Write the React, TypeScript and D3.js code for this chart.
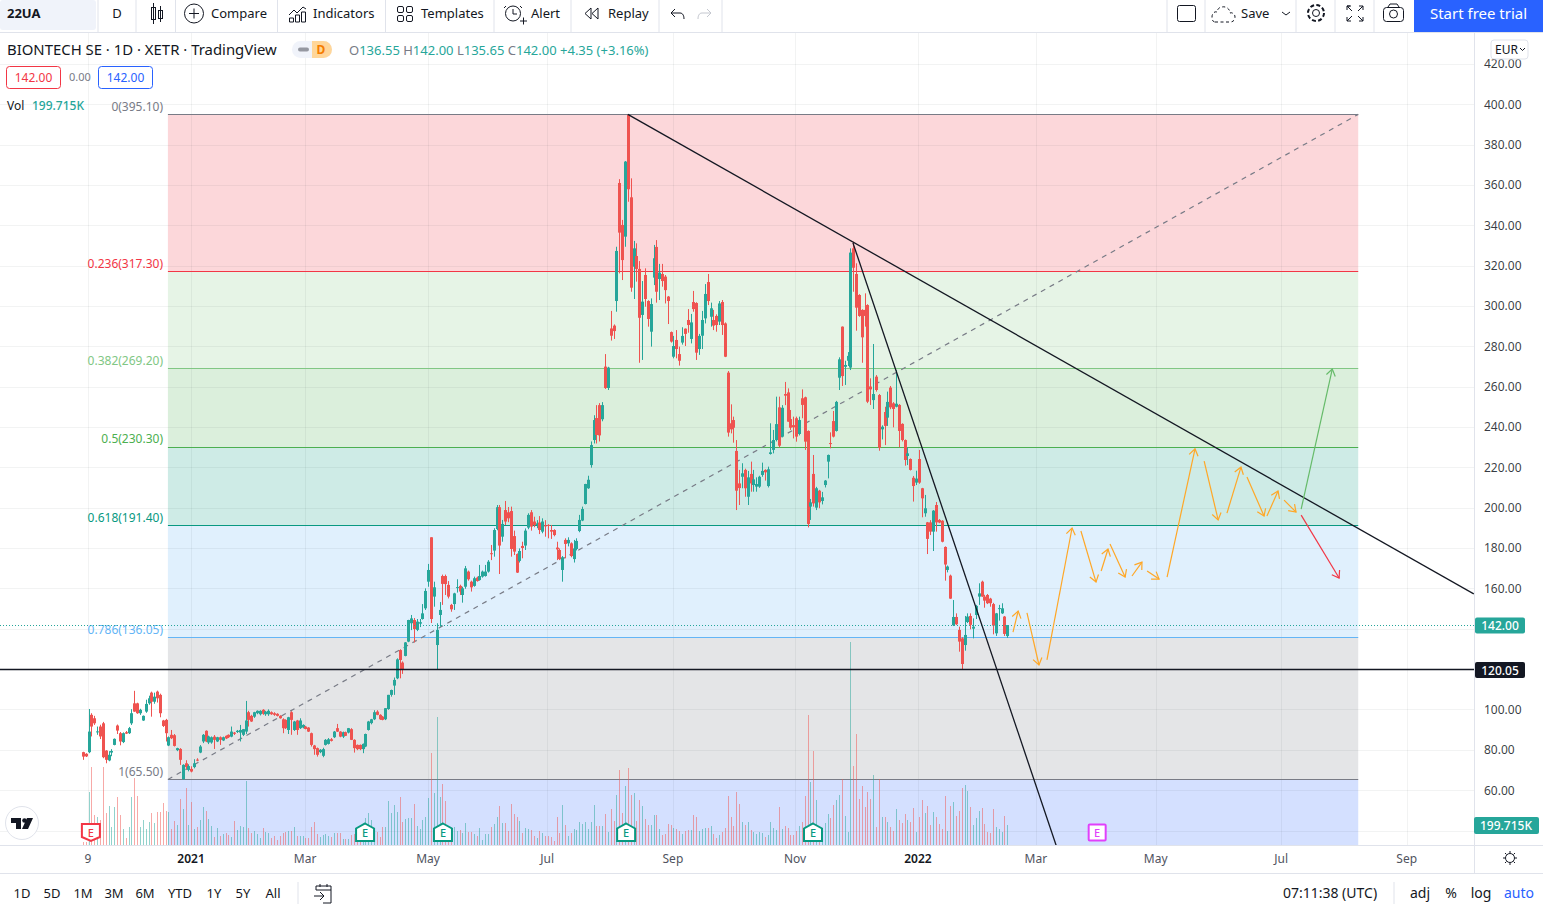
import * as d3 from 'd3'

const FONT = '"Noto Sans", "Open Sans", sans-serif'
const GREEN = '#26a69a'
const RED = '#ef5350'

// [open, high, low, close], daily bars
const candles2020 = [
  [79,79.2,75.2,76.8],[78.2,78.5,76.6,76.9],[79,100.4,78.5,89.2],[97.5,98.3,86.8,91.7],[95.8,97,92.5,93.3],
  [89,91.7,87.6,89.3],[91.7,92.6,85.5,86.8],[93.3,94,76,76.5],[79.8,80,73.5,75.2],[74.9,79.5,74.5,77.7],
  [78.8,80.5,77,79.6],[82.6,85.8,82.4,85.6],[92.2,92.7,88,89.7],[88.4,89,82.4,84.3],[84,88.8,83.5,88.4],
  [88.9,89.5,88,88.2],[88.4,91.5,88,90.9],[93.3,100.3,92.5,98.3],[103.2,109.4,99,99.1],[103.2,103.5,98,98.3],
  [98.3,100.5,97.5,100],[94.7,97.2,94.5,97],[99.1,105,98.5,102.9],[103.2,107,102.5,105.7],[108.5,109,96.6,104],
  [104,108.5,103,106.5],[109,109.5,103.6,105.7],[107.4,108,96.3,98.3],[94.7,95,91.5,92],[95,95.5,84.3,88.4],
]
const candlesQ1 = [
  [82.3,86.8,82,86.4],[87.6,90,85.5,85.9],[87.4,88,81.8,82.1],[80,81.2,79.5,81],[80.6,81,72.7,75.2],
  [65.6,73,65.5,72.7],[73.5,75,70.5,71.6],[70.2,73,69.5,72.1],[70.7,72,69,69.4],[71.6,75.5,71,73.5],
  [75.3,76,74.5,75],[78.8,82.5,78.5,81.8],[84.3,88,83.5,87.6],[89.6,89.8,84,84.3],[83.8,87.2,83,86.8],
  [83.8,86.8,83.2,86.4],[86.7,87.5,80.6,85.1],[84.3,86.6,84,86.4],[86.4,86.8,82.6,85.1],[84.8,86.7,84.5,86.4],
  [87.1,87.3,85.5,85.8],[87.6,87.8,86,86.4],[86.7,91.7,86.4,89.2],[88.7,89,87.5,88.1],[89,90,88.5,89.6],
  [88.7,92.5,84.3,90],[87.6,90.5,87,90.4],[89.2,104.4,88,94.7],[98.8,99.5,91.7,95],[97,97.5,94,94.2],
  [96.6,99,96,98.8],[98.3,99.7,97.8,99.5],[97.8,99.8,97.2,99.5],[100,100.3,97.5,98],[97.8,99.5,97,99.1],
  [97.8,100.2,97,99.5],[98.8,99.2,97.5,97.8],[98.3,98.8,97,97.5],[98,98.3,96.7,97],[97,97.3,95.6,95.8],
  [95.3,95.8,88.4,90.9],[95,95.3,90.5,90.9],[90,96.5,88,96.3],[98.8,99.3,87.6,95],[90,94.5,89.5,94.2],
  [94.7,95,87.6,90],[90.9,95.8,90.5,94.7],[91.2,92.8,90.8,92.5],[91.7,92,90.3,90.5],[91.2,91.4,89,89.2],
  [88.4,88.7,81.8,82.6],[82.3,82.6,77.7,80.5],[81,81.3,76.8,77.7],[79,80.5,78.5,80.2],[77.2,81.2,76.5,80.5],
  [82.6,85.5,82.3,85.1],[83.1,86,82.8,85.4],[85.4,86,84.3,84.6],[86.4,89.5,86,89.2],[90.9,93,89,89.2],
  [89.2,89.4,86.4,86.7],[86.7,89.2,86,88.9],[88.9,89.2,87,87.1],[88.7,91,88.3,90.9],[90.4,90.9,85,85.1],
  [85.1,85.4,78.8,81],[82.6,82.8,80,80.5],[82.6,82.8,80,80.5],[80.5,83.3,78.5,83.1],[81.8,88.2,81.5,88],
  [90,94.5,89.7,94.2],[93.4,95.5,92.8,95.3],[95.3,99.8,94.9,98.8],[99.1,99.8,97.3,97.5],[97.5,97.8,95,95.3],
  [96.6,96.9,94.8,95],[95.3,100.8,94.9,100.8],[100.4,107.4,100,107.4],[107.4,110,106.5,109.8],[112,116,107.4,114.8],
]
const candlesQ2 = [
  [115.6,125.5,115.2,125],[129.6,130,115.6,124.7],[123.4,124,117.8,120.1],[126.7,133.6,126.5,133.4],[133.8,144.6,133.5,144.5],
  [142.9,147,139.5,145.3],[144.5,145.5,133.4,140],[139.6,145,139,143.7],[142.7,145,141,143.4],[145,152.4,144.7,147.8],
  [150.3,160.2,149.5,158.9],[163.5,172.3,161,169.3],[185.5,185.5,143,145],[156.1,163.5,151.1,160.7],[132.1,142.9,120.2,139.6],
  [147,153.4,141.2,149.5],[166.3,167,152,162.4],[166.3,167,156.9,162.3],[161.9,163.8,155.2,156.1],[152,152.5,148.6,149.8],
  [152.4,158,149.5,157.7],[160.5,164.7,158.1,160.8],[161.4,162,156.9,158.6],[156.9,161,153.1,160.2],[161,171.3,160,170.1],
  [168.5,169,164,164.7],[163.5,164,158.6,160.7],[161.4,166,161,165.2],[165.5,166,163.5,163.8],[164.3,171.8,164,166.3],
  [166,169,165.5,168.5],[166.3,171.8,166,168.5],[168.5,174.2,168,173.4],[177.6,181.7,174.2,177.2],[178.9,190,175.9,189.1],
  [189.6,201.5,189,200.4],[200.4,201.5,167.3,181.4],[185.8,194.1,183.3,192.1],[199,203.5,191.6,193.3],[197.9,200.5,193,194.9],
  [198.5,200.7,175.9,179.7],[186.1,188.8,176.7,178.4],[177.2,177.5,167.8,168],[173.8,180,173,178.7],[181.2,183.3,175.1,180.2],
  [181.4,189.9,179.2,188.8],[190.3,197.4,189.5,196.6],[197.9,199,188.8,190.8],[193.3,195.7,190.5,191.6],[191.6,194,190,192.4],
  [192.8,196,187.1,189.1],[188.3,194.9,187.5,193.3],[191.4,194,185.8,191.1],[191.6,192,185,191.2],[189.1,191.6,184.7,188.3],
  [189.1,189.5,186,186.6],[180.4,183.3,174.2,179.5],[179.2,180,174.2,174.7],[169.3,176.2,163.5,175.6],[184.2,185,175.1,182.2],
  [182.5,185.5,181,184.2],[182.5,183,175.6,176.2],[174.7,184.2,173,180],[179.7,185,179,183.7],
]
const candlesSummer = [
  [188.6,196.6,188,194.1],[193.8,200.7,193.5,199.5],[202,212,201.8,211.9],[209.8,216,209.5,214],[221.3,233,220,231.2],
  [233.7,246,232,243.6],[244.6,251,232,236.2],[251,252,233,236],[244,252.5,243,251],[270.1,276.3,259,259.5],
  [259.5,270,258.5,269.6],[289,297.7,283,285.4],[290.4,291,283.8,287.7],[302.6,329.5,297.3,327.4],[361.1,363,316.3,336.5],
  [340.3,342.8,313,322.9],[334.5,372,329.5,371.7],[394.8,395.1,351.8,358],[354,363.4,307.2,309.2],[319.6,332.4,303.6,328.7],
  [324.9,331.2,312.2,318.5],[318.5,322.4,272,294.3],[295.7,312.5,273.4,302.3],[315.5,318.8,299.8,303.6],[302.6,303,289.9,293.7],
  [287.4,303.9,280,301.1],[314.2,330.4,310.5,323.8],[329.4,332.8,301.8,307.2],[313.5,321,303.1,316.7],[316,321,309.7,312.5],
  [314.7,315.5,301.4,308],[304.8,305.1,291.2,302.6],[287.2,287.5,282,282.5],[275,285.3,274.2,280.3],[283.3,288.2,274.2,278.8],
  [276.3,280,270.6,273],[282,289.6,281,285.3],[288.9,289,280.3,286.3],[293.2,298.6,286.9,290.7],[283.8,296.2,281.6,292],
  [302.1,307.6,297.3,298.6],[301.6,302,273.4,277],[278.8,286.3,275.9,285.3],[285.4,297.7,278.8,293.2],[294,311,291.5,306.1],
  [312,316,300.6,302.6],[294.8,301.8,289.9,299],[293.2,298.2,288.2,290.4],[295.2,296,287.4,290.7],[292.4,302.6,290.7,301.4],
  [302.1,303.1,285.8,290.7],[291.5,292,274.8,275],
]
const candlesAutumn = [
  [267.1,267.9,235.4,237.4],[242,251.4,237,239],[243.6,245.3,232.4,239.8],[228.3,233.7,199,208.6],[212.2,218.9,201.5,209.9],
  [215.5,222.2,209.8,217.2],[218.9,219.5,205.6,209.8],[205.6,218.4,201.5,215.2],[216.9,223,208.1,212.2],[211.4,218.9,208.1,214.2],
  [210.6,215.2,208.1,211.9],[210.6,216,210,215.5],[216.4,222.5,215.5,218.4],[218.9,219.2,213.6,217.7],[210.9,220.5,210.2,219.2],
  [226.8,242,226.5,227.6],[228.8,238.7,227.1,233.7],[233.7,255.2,233,241.6],[249.9,255.2,230.1,230.9],[235.4,251,235,249.7],
  [256.5,262.5,251,255.7],[257.3,259.3,242.8,242.8],[244.1,248.6,238.7,239.8],[241.1,245.3,234.5,240],[244.5,245.3,232.9,235.4],
  [236.7,245.3,236,243.6],[254.4,258.8,244.5,251.1],[254.9,255.2,228.8,232.9],[238.2,238.5,190.4,192.1],[200.7,204.5,194.1,202.8],
  [216.9,226.3,200.7,202.3],[200.2,210.5,199,209.8],[208.6,209,199.9,202.8],[203.5,208,201.8,205.3],[211.4,213.9,210.2,213.6],
  [223,226.5,214.7,226.3],[232.2,237.5,229.6,232],[243.1,248.1,235,235.4],[238.2,253.1,237.9,252.6],
]
const candlesWinter = [
  [264.6,274.7,258.5,273.7],[289.9,290,260.5,265.4],[270,273,261,270.9],[273,277.3,270.4,275.4],[269.6,328.7,268.4,326.6],
  [328.7,332,307.2,319.1],[316,321.3,287.9,299.3],[305.6,306,294.8,295.2],[298.2,298.5,272,284.6],[298.2,306.4,289.9,295.2],
  [300.6,301,252,252.7],[260.2,264.3,251.1,258.8],[253.5,281.3,249.1,256.5],[265.1,265.9,257.7,258.5],[256,256.5,228.4,229.9],
  [239,241,234,240.3],[247.6,250.2,231.2,240.7],[244.8,257.7,240.7,252.6],[259.7,260.5,249,249.9],[251.9,252.5,240,249.1],
  [250.2,268.4,249.9,251.7],[251.1,251.5,230.1,238.2],[241.7,242,233,233.7],[233.7,234,221,223.8],[225.8,230.1,221.3,227.1],
  [224.3,224.6,218.6,218.9],[215,215.9,203.2,210.9],[212.6,218.5,211.4,214.6],[224.3,228.8,212,212.6],[209.8,210,195.4,204.8],
  [197.4,206.5,195.7,199.9],[192.9,193.1,177.2,184.7],[192.9,194,186.6,188.3],[188.3,199,178.7,198.7],[201.5,203,188.3,192.9],
  [194.1,194.5,192.5,192.8],[193.7,194,183,183.3],[180.7,181,164,172],[169.3,171.5,168.1,171],[166.5,167,155,155.1],
  [141.9,154.4,141.5,146],[146,147.8,142,142.4],[139.6,141.2,128.8,133.8],[135.4,136,120.05,122.7],[132.1,146.5,129.3,137.1],
  [143.5,147.8,143,146.2],[146.5,147.8,139.9,142.1],[140.2,145.3,135.4,141.2],[147,152,145,151.5],[156.1,162.7,152,157.7],
  [163.5,164,156,156.1],[156.1,157,150.6,154.1],[156.9,157.4,152.4,152.8],[155.1,155.5,151.1,152.8],[152.4,153,137.4,141.7],
  [137.9,148,136.6,147.8],[150.1,152,144.2,150.4],[147.8,152.8,147.5,150.3],[146.2,146.5,136.6,137.6],[136.55,142,135.65,142],
]
const candles = [...candles2020, ...candlesQ1, ...candlesQ2, ...candlesSummer, ...candlesAutumn, ...candlesWinter]

// volume in thousands, same order as the candles
const volume2020 = [30,30,530,780,300,280,250,780,320,390,180,380,480,300,160,70,180,480,670,490,180,250,160,230,320,220,330,330,420,340]
const volumeQ1 = [330,160,240,200,460,360,570,200,430,160,180,250,380,340,260,190,80,170,90,110,120,100,80,240,150,190,180,640,170,120,140,110,70,170,130,120,70,90,50,90,120,130,140,140,180,90,90,90,70,70,180,230,110,80,100,110,90,80,120,120,120,60,60,60,100,110]
const volumeQ2 = [80,100,120,270,320,250,120,130,80,180,180,440,320,400,330,480,230,260,270,270,410,190,160,250,280,470,920,520,1280,480,610,440,150,120,180,140,150,120,220,130,130,110,90,170,50,110,110,180,210,280,390,220,220,140,410,310,280,240,120,170,160,150,90,70,140,120,90,90,80,40,280,120,400,200,90,120,160,150,230,210,230,160,230,400,190,190,190,310,130,360,240,500,750]
const volumeSummer = [320,590,770,500,520,240,450,390,260,200,200,300,300,160,100,110,210,200,170,160,140,110,140,150,150,300,280,140,160,170,170,190,110,70,100,130,170,490,280,190,530,410,230,200,230,150,130,110,130,120,80,100,230,170,150,380,160,190,170,100,100,140,190,230,490,1300,630,940,450,150,120,220,310,270,400,450,500,660,290,130]
const volumeWinter = [2030,790,1110,460,590,380,530,460,700,180,660,280,280,230,180,140,360,250,220,310,250,230,370,130,280,450,320,390,200,330,280,210,160,490,140,390,430,290,340,570,600,540,380,200,270,340,370,210,130,120,360,180,160,130,290,199.715]
const volumes = [...volume2020, ...volumeQ1, ...volumeQ2, ...volumeSummer, ...volumeWinter]

const priceTicks = [420,400,380,360,340,320,300,280,260,240,220,200,180,160,140,120,100,80,60,40]
// these sit behind the last-price, level and volume tags
const hiddenPriceLabels = [140,120,40]
const timeTickBars = [1.8,37.9,77.9,121,162.7,206.8,249.6,292.7,334,376,420,464]
const timeTickLabels = ['9','2021','Mar','May','Jul','Sep','Nov','2022','Mar','May','Jul','Sep']
const boldTimeLabels = ['2021','2022']

const fibRatios = [0,0.236,0.382,0.5,0.618,0.786,1,1.618]
const fibPrices = [395.1,317.3,269.2,230.3,191.4,136.05,65.5,-138.2]
const fibLabels = ['0(395.10)','0.236(317.30)','0.382(269.20)','0.5(230.30)','0.618(191.40)','0.786(136.05)','1(65.50)','']
const fibColors = ['#787b86','#f23645','#81c784','#4caf50','#089981','#64b5f6','#787b86','#2962ff']
const fibStartBar = 29.8
const fibEndBar = 447

const earningsBars = [2.8,98.9,126.2,190.4,255.9]
const earningsKinds = ['miss','beat','beat','beat','beat']
const nextEarningsBar = 355.5

// drawings, as [bar, price, bar, price]
const trendLines = [
  [191,395.1,487.5,157.4],
  [269.9,331.4,341.1,32.9],
]
const orangeArrows = [
  [326,138.5,327.8,148.9],[330.9,148,335.1,122.2],[337.9,124.7,346.7,190.1],[349.8,188.6,355.1,163.3],
  [356.9,168.8,359.3,179.7],[360,182.2,365.3,165.8],[367.7,166.3,371.2,173.2],[373,168.8,377.2,164.8],
  [380,165.8,389.8,229.3],[393,223.3,397.9,194.1],[401,197.5,405.9,220.3],[408,215.4,414,196],
  [415,196,418.9,208.4],[421,203.9,425.2,198],
]
const greenArrow = [427,199.5,437.9,268.9]
const redArrow = [427,196.5,440.3,165.3]

const bottomRanges = ['1D','5D','1M','3M','6M','YTD','1Y','5Y','All']
const bottomRangeX = [22,52,83,114,145,180,214,243,273]

const W = 1543
const H = 912
const PANE_R = 1474
const PANE_T = 33
const PANE_B = 845

const x = d3.scaleLinear().domain([0, 324]).range([82.9, 1007.3])
const y = d3.scaleLinear().domain([400, 60]).range([104.5, 790.5])
const volY = d3.scaleLinear().domain([0, 2030]).range([PANE_B, 642])

// snap a horizontal 1px line onto the pixel grid
const crisp = (v: number) => Math.round(v - 0.3) + 0.5

function Arrow({ a, color }: { a: number[]; color: string }) {
  const x1 = x(a[0]), y1 = y(a[1]), x2 = x(a[2]), y2 = y(a[3])
  const ang = Math.atan2(y2 - y1, x2 - x1)
  const len = 8
  const wing = (d: number) => `${x2 - len * Math.cos(ang + d)},${y2 - len * Math.sin(ang + d)}`
  return (
    <g stroke={color} strokeWidth={1.2} fill="none">
      <line x1={x1} y1={y1} x2={x2} y2={y2} />
      <polyline points={`${wing(0.6)} ${x2},${y2} ${wing(-0.6)}`} />
    </g>
  )
}

function Toolbar() {
  const sep = [98,136,175.5,277.5,385.5,494,571,659,722,1167,1205,1296,1335,1374]
  const ink = '#131722'
  return (
    <g fontSize={13} fill={ink}>
      <rect x={0} y={0} width={W} height={32} fill="#fff" />
      <rect x={0} y={0} width={96} height={30} rx={3} fill="#f0f3fa" />
      {sep.map(s => <line key={s} x1={s} x2={s} y1={0} y2={32} stroke="#e0e3eb" />)}
      <line x1={0} x2={W} y1={32.5} y2={32.5} stroke="#e0e3eb" />
      <text x={7} y={18} fontWeight={700}>22UA</text>
      <text x={117} y={18} textAnchor="middle">D</text>
      <g stroke={ink} fill="none" strokeWidth={1}>
        <rect x={151.5} y={7.5} width={4} height={12} />
        <line x1={153.5} x2={153.5} y1={3} y2={24} />
        <rect x={158.5} y={10.5} width={4} height={8} />
        <line x1={160.5} x2={160.5} y1={6} y2={22} />
        <circle cx={194} cy={13.5} r={9.5} />
        <path d="M194 8.5v10M189 13.5h10" />
        <path d="M289 15l5-5 3 3 6-6 3 2M289.5 22v-4h4v4zM295.5 22v-7h4v7zM301.5 22v-10h4v10z" />
        <rect x={397.5} y={6.5} width={6} height={6} rx={1.5} />
        <rect x={406.5} y={6.5} width={6} height={6} rx={1.5} />
        <rect x={397.5} y={15.5} width={6} height={6} rx={1.5} />
        <rect x={406.5} y={15.5} width={6} height={6} rx={1.5} />
        <circle cx={513} cy={13.5} r={7.5} />
        <path d="M513 9v5h4M506 6l-2 2M520 6l2 2M520 21h7M523.5 17.5v7" />
        <path d="M591 8l-6 5.5 6 5.5zM598 8l-6 5.5 6 5.5z" />
        <path d="M671 13h9c3 0 4 3 4 6M671 13l4-4M671 13l4 4" />
        <path d="M711 13h-9c-3 0-4 3-4 6M711 13l-4-4M711 13l-4 4" stroke="#c4c7cf" />
        <rect x={1177.5} y={5.5} width={18} height={16} rx={2} />
        <path d="M1215 22h15c4 0 5-3 5-5 0-3-3-5-5-4 0-4-4-7-8-6-3 0-5 3-5 5-3-1-5 2-5 5 0 3 1 5 3 5" strokeDasharray="3 2.5" />
        <path d="M1282 12l4 3 4-3" />
        <circle cx={1316} cy={13} r={3.5} />
        <circle cx={1316} cy={13} r={8} strokeDasharray="4 2.3" strokeWidth={2} />
        <path d="M1347 6h3v0M1347 6l5 5M1347 6v4M1347 6h4M1363 6l-5 5M1363 6v4M1363 6h-4M1347 21l5-5M1347 21v-4M1347 21h4M1363 21l-5-5M1363 21v-4M1363 21h-4" />
        <rect x={1383.5} y={7.5} width={20} height={14} rx={3} />
        <circle cx={1393.5} cy={14} r={4} />
        <path d="M1388 7l2-3h7l2 3" />
      </g>
      <text x={211} y={18}>Compare</text>
      <text x={313} y={18}>Indicators</text>
      <text x={421} y={18}>Templates</text>
      <text x={531} y={18}>Alert</text>
      <text x={608} y={18}>Replay</text>
      <text x={1241} y={18}>Save</text>
      <rect x={1414} y={0} width={129} height={32} fill="#2962ff" />
      <text x={1478.5} y={19} textAnchor="middle" fill="#fff" fontSize={15}>Start free trial</text>
    </g>
  )
}

function Legend() {
  const tv = '#26a69a'
  const gray = '#787b86'
  return (
    <g fontSize={12}>
      <text x={7} y={54.5} fontSize={14.9} fill="#131722">BIONTECH SE · 1D · XETR · TradingView</text>
      <rect x={292} y={41} width={40} height={17} rx={8.5} fill="#f0f3fa" />
      <path d="M312 41h11.5a8.5 8.5 0 0 1 0 17H312z" fill="#ffd699" />
      <rect x={298} y={47.5} width={11} height={4} rx={2} fill="#9598a1" />
      <text x={321} y={54} textAnchor="middle" fill="#f57c00" fontWeight={700}>D</text>
      <text x={349} y={55} fontSize={13}>
        <tspan fill={gray}>O</tspan><tspan fill={tv}>136.55 </tspan>
        <tspan fill={gray}>H</tspan><tspan fill={tv}>142.00 </tspan>
        <tspan fill={gray}>L</tspan><tspan fill={tv}>135.65 </tspan>
        <tspan fill={gray}>C</tspan><tspan fill={tv}>142.00 +4.35 (+3.16%)</tspan>
      </text>
      <rect x={6.5} y={66.5} width={54} height={22} rx={3} fill="#fff" stroke="#f23645" />
      <text x={33.5} y={82} textAnchor="middle" fill="#f23645">142.00</text>
      <text x={80} y={81} textAnchor="middle" fill={gray} fontSize={11}>0.00</text>
      <rect x={98.5} y={66.5} width={54} height={22} rx={3} fill="#fff" stroke="#2962ff" />
      <text x={125.5} y={82} textAnchor="middle" fill="#2962ff">142.00</text>
      <text x={7} y={109.5} fill="#131722">Vol</text>
      <text x={32} y={109.5} fill={tv} fontWeight={500}>199.715K</text>
      <rect x={1491} y={40} width={37} height={19} rx={3} fill="#fff" stroke="#e0e3eb" />
      <text x={1495} y={53.5} fontSize={12} fill="#131722">EUR</text>
      <path d="M1520 48l2.5 2.5 2.5-2.5" stroke="#131722" fill="none" />
    </g>
  )
}

function BottomBar() {
  return (
    <g fontSize={13} fill="#131722">
      <line x1={0} x2={W} y1={873.5} y2={873.5} stroke="#e0e3eb" />
      {bottomRanges.map((r, i) => <text key={r} x={bottomRangeX[i]} y={898} textAnchor="middle">{r}</text>)}
      <line x1={298} x2={298} y1={882} y2={904} stroke="#e0e3eb" />
      <g stroke="#131722" fill="none">
        <path d="M316 890v-4h15v17h-8M316 890h15M320 884v3M327 884v3M314 896h10M320 892l4 4-4 4" />
      </g>
      <text x={1330} y={898} textAnchor="middle" fontSize={14}>07:11:38 (UTC)</text>
      <line x1={1394} x2={1394} y1={882} y2={904} stroke="#e0e3eb" />
      <text x={1420} y={898} textAnchor="middle" fontSize={14}>adj</text>
      <text x={1451} y={898} textAnchor="middle" fontSize={14}>%</text>
      <text x={1481} y={898} textAnchor="middle" fontSize={14}>log</text>
      <text x={1519} y={898} textAnchor="middle" fontSize={14} fill="#2962ff">auto</text>
    </g>
  )
}

function Earnings() {
  return (
    <g fontSize={11} fontWeight={500} textAnchor="middle">
      {earningsBars.map((b, i) => {
        const cx = x(b)
        const miss = earningsKinds[i] === 'miss'
        const color = miss ? '#f23645' : '#089981'
        const pts = miss
          ? `${cx - 9},824 ${cx + 9},824 ${cx + 9},837 ${cx},841 ${cx - 9},837`
          : `${cx},823.5 ${cx + 9},828.5 ${cx + 9},841 ${cx - 9},841 ${cx - 9},828.5`
        return (
          <g key={b}>
            <polygon points={pts} fill="#fff" stroke={color} strokeWidth={2} />
            <text x={cx} y={837} fill={color}>E</text>
          </g>
        )
      })}
      <rect x={x(nextEarningsBar) - 8.5} y={824.5} width={17} height={16} rx={1} fill="#fff" stroke="#e040fb" strokeWidth={2} />
      <text x={x(nextEarningsBar)} y={837} fill="#e040fb">E</text>
    </g>
  )
}

export default function App() {
  const bandX = x(fibStartBar)
  const bandW = x(fibEndBar) - bandX
  return (
    <svg width={W} height={H} viewBox={`0 0 ${W} ${H}`} fontFamily={FONT}
      style={{ position: 'fixed', left: 0, top: 0, display: 'block', background: '#fff' }}>
      <defs>
        <clipPath id="pane"><rect x={0} y={PANE_T} width={PANE_R} height={PANE_B - PANE_T} /></clipPath>
      </defs>

      <g clipPath="url(#pane)">
        {fibRatios.slice(0, -1).map((r, i) => (
          <rect key={r} x={bandX} width={bandW} y={y(fibPrices[i])} height={y(fibPrices[i + 1]) - y(fibPrices[i])}
            fill={fibColors[i + 1]} fillOpacity={0.2} />
        ))}

        <g stroke="#2a2e39" strokeOpacity={0.06}>
          {priceTicks.map(t => <line key={t} x1={0} x2={PANE_R} y1={crisp(y(t))} y2={crisp(y(t))} />)}
          {timeTickBars.map(b => <line key={b} x1={Math.round(x(b)) + 0.5} x2={Math.round(x(b)) + 0.5} y1={PANE_T} y2={PANE_B} />)}
        </g>

        {fibRatios.slice(0, -1).map((r, i) => (
          <g key={r}>
            <line x1={bandX} x2={bandX + bandW} y1={crisp(y(fibPrices[i]))} y2={crisp(y(fibPrices[i]))} stroke={fibColors[i]} />
            <text x={163} y={y(fibPrices[i]) - 3.5} textAnchor="end" fontSize={12} fill={fibColors[i]}>{fibLabels[i]}</text>
          </g>
        ))}

        <line x1={x(fibStartBar)} y1={y(fibPrices[6])} x2={x(fibEndBar)} y2={y(fibPrices[0])}
          stroke="#787b86" strokeWidth={1.2} strokeDasharray="5 5" />

        {volumes.map((v, i) => {
          const c = candles[i]
          if (!c) return null
          return <rect key={i} x={Math.round(x(i))} width={1} y={volY(v)} height={PANE_B - volY(v)}
            fill={c[3] >= c[0] ? GREEN : RED} fillOpacity={0.5} />
        })}

        {candles.map((c, i) => {
          const [o, h, l, cl] = c
          const color = cl >= o ? GREEN : RED
          const top = y(Math.max(o, cl))
          const px = Math.round(x(i))
          return (
            <g key={i} fill={color}>
              <rect x={px} width={1} y={y(h)} height={y(l) - y(h)} />
              <rect x={px - 1} width={3} y={top} height={Math.max(1, y(Math.min(o, cl)) - top)} />
            </g>
          )
        })}

        <line x1={0} x2={PANE_R} y1={crisp(y(142))} y2={crisp(y(142))} stroke={GREEN} strokeDasharray="1 2" />
        <line x1={0} x2={PANE_R} y1={crisp(y(120.05))} y2={crisp(y(120.05))} stroke="#131722" strokeWidth={1.3} />

        {trendLines.map(t => (
          <line key={t[0]} x1={x(t[0])} y1={y(t[1])} x2={x(t[2])} y2={y(t[3])} stroke="#131722" strokeWidth={1.3} />
        ))}
        {orangeArrows.map(a => <Arrow key={a[0]} a={a} color="#ffa726" />)}
        <Arrow a={greenArrow} color="#66bb6a" />
        <Arrow a={redArrow} color="#f23645" />

        <Earnings />

        <circle cx={22} cy={823} r={16.5} fill="#fff" stroke="#e0e3eb" />
        <path d="M11 818h10v11h-5v-6h-5zM33 818l-5 11h-6l5-11z" fill="#131722" />
        <circle cx={24.5} cy={820.5} r={2.3} fill="#131722" />
      </g>

      <rect x={PANE_R} y={PANE_T} width={W - PANE_R} height={PANE_B - PANE_T} fill="#fff" />
      <line x1={PANE_R + 0.5} x2={PANE_R + 0.5} y1={PANE_T} y2={873} stroke="#e0e3eb" />
      <line x1={0} x2={W} y1={PANE_B + 0.5} y2={PANE_B + 0.5} stroke="#e0e3eb" />

      <g fontSize={12} fill="#131722" fillOpacity={0.85}>
        {priceTicks.filter(t => !hiddenPriceLabels.includes(t)).map(t => (
          <text key={t} x={1484} y={y(t) + 4}>{t.toFixed(2)}</text>
        ))}
      </g>

      <g fontSize={12} fontWeight={500} fill="#fff">
        <rect x={1475} y={617.5} width={50} height={16} rx={2} fill={GREEN} />
        <text x={1500} y={630} textAnchor="middle">142.00</text>
        <rect x={1475} y={662} width={50} height={16} rx={2} fill="#131722" />
        <text x={1500} y={674.5} textAnchor="middle">120.05</text>
        <rect x={1474} y={817} width={65} height={17} rx={2} fill={GREEN} />
        <text x={1506} y={830} textAnchor="middle">199.715K</text>
      </g>

      <g fontSize={12} textAnchor="middle">
        {timeTickBars.map((b, i) => {
          const bold = boldTimeLabels.includes(timeTickLabels[i])
          return <text key={b} x={x(b)} y={862.5} fill={bold ? '#131722' : '#50535e'} fontWeight={bold ? 600 : 400}>{timeTickLabels[i]}</text>
        })}
      </g>

      <g stroke="#131722" fill="none">
        <circle cx={1510} cy={858} r={4.5} />
        <path d="M1510 851v2M1510 863v2M1503 858h2M1515 858h2M1505 853l1.5 1.5M1513.5 861.5l1.5 1.5M1505 863l1.5-1.5M1513.5 854.5l1.5-1.5" />
      </g>

      <Toolbar />
      <Legend />
      <BottomBar />
    </svg>
  )
}
